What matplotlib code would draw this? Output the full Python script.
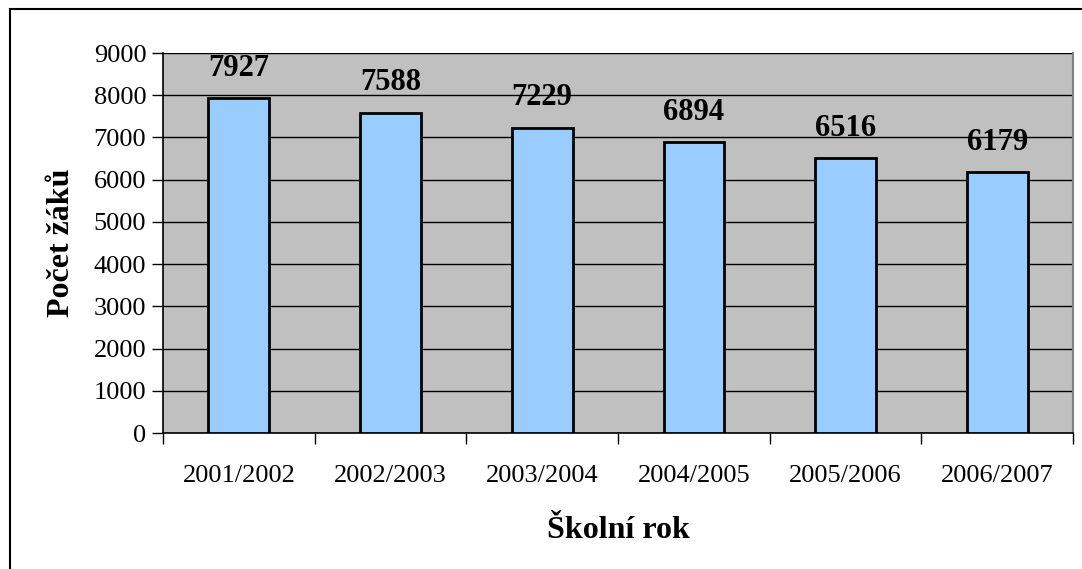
import matplotlib
matplotlib.use("Agg")
import matplotlib.pyplot as plt
from matplotlib.patches import Rectangle

years = ["2001/2002", "2002/2003", "2003/2004", "2004/2005", "2005/2006", "2006/2007"]
pupils = [7927, 7588, 7229, 6894, 6516, 6179]
yticks = [0, 1000, 2000, 3000, 4000, 5000, 6000, 7000, 8000, 9000]

plt.rcParams['font.family'] = ['Liberation Serif', 'DejaVu Serif']

W, H = 1082, 569
fig = plt.figure(figsize=(W / 100, H / 100), dpi=100)
fig.patches.append(Rectangle((10 / W, -0.05), 1.2, (H - 9) / H + 0.05, transform=fig.transFigure,
                             fill=False, edgecolor='black', linewidth=1.5))

left, right, top, bottom = 163, 1073, 53, 433
ax = fig.add_axes([left / W, 1 - bottom / H, (right - left) / W, (bottom - top) / H])
ax.set_facecolor('#C0C0C0')

x = list(range(len(years)))
bars = ax.bar(x, pupils, width=0.4, color='#99CCFF', edgecolor='black', linewidth=2, zorder=3)
for xi, v in zip(x, pupils):
    ax.annotate(str(v), (xi, v), xytext=(0, 11), textcoords='offset points',
                ha='center', va='bottom', fontsize=22, fontweight='bold')

ax.set_xlim(-0.5, len(years) - 0.5)
ax.set_ylim(0, 9000)
ax.set_yticks(yticks)
ax.set_yticklabels([str(t) for t in yticks], fontsize=19)
ax.yaxis.grid(True, color='black', linewidth=1, zorder=1)
ax.set_axisbelow(True)

ax.set_xticks([i + 0.5 for i in range(-1, len(years))], minor=False)
ax.set_xticklabels([''] * (len(years) + 1))
ax.set_xticks(x, minor=True)
ax.set_xticklabels(years, minor=True, fontsize=19)
ax.tick_params(axis='x', which='major', length=8, width=1, direction='out')
ax.tick_params(axis='x', which='minor', length=0, pad=23)
ax.tick_params(axis='y', length=8, width=1, direction='out', pad=4)

for s in ['left', 'bottom']:
    ax.spines[s].set_color('black')
    ax.spines[s].set_linewidth(1.2)
ax.spines['top'].set_visible(False)
ax.spines['right'].set_color('#808080')
ax.spines['right'].set_linewidth(1.5)

ax.set_xlabel('Školní rok', fontsize=23, fontweight='bold', labelpad=21)
ax.set_ylabel('Počet žáků', fontsize=23, fontweight='bold', labelpad=13)

fig.savefig('out.png', dpi=100)
